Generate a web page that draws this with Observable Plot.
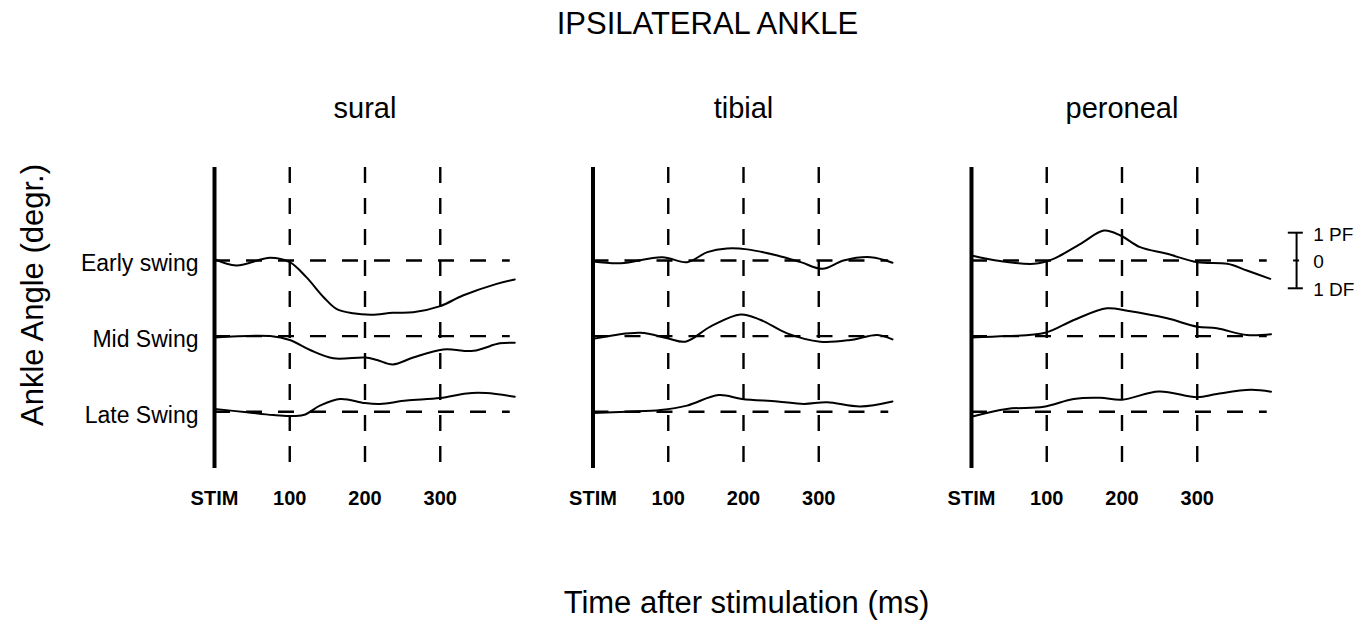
<!DOCTYPE html>
<html>
<head>
<meta charset="utf-8">
<script src="https://cdn.jsdelivr.net/npm/d3@7"></script>
<script src="https://cdn.jsdelivr.net/npm/@observablehq/plot@0.6"></script>
<style>
  html, body { margin: 0; padding: 0; background: #ffffff; }
  #chart svg { display: block; }
</style>
</head>
<body>
<div id="chart"></div>
<script>
// ---------- data ----------
const PANELS = ["sural", "tibial", "peroneal"];
const PHASES = ["Early swing", "Mid Swing", "Late Swing"];
const PHASE_SHIFT = 2.72;                 // degrees between stacked baselines
const X_TICKS = [0, 100, 200, 300];
const X_TICK_LABELS = ["STIM", "100", "200", "300"];
const MARKER_TIMES = [100, 200, 300];
const SCALE_VALUES = [1, 0, -1];
const SCALE_LABELS = ["1 PF", "0", "1 DF"];

// ankle angle (degrees, + = plantar flexion) vs time after stimulation (ms)
const sural_early_t = [0, 29, 74, 100, 122, 145, 162, 184, 209, 237, 264, 300, 330, 375, 399];
const sural_early_v = [0.05, -0.18, 0.1, -0.06, -0.6, -1.32, -1.74, -1.9, -1.95, -1.88, -1.86, -1.64, -1.26, -0.84, -0.68];
const sural_mid_t = [0, 74, 100, 127, 158, 200, 216, 237, 264, 304, 344, 379, 399];
const sural_mid_v = [-0.05, 0, -0.14, -0.5, -0.8, -0.77, -0.86, -1.02, -0.77, -0.48, -0.53, -0.26, -0.24];
const sural_late_t = [0, 43, 78, 118, 140, 167, 200, 220, 255, 300, 335, 361, 399];
const sural_late_v = [0.1, -0.02, -0.12, -0.12, 0.22, 0.46, 0.31, 0.28, 0.4, 0.49, 0.66, 0.67, 0.54];

const tibial_early_t = [0, 37, 92, 125, 152, 178, 205, 245, 276, 305, 333, 369, 398];
const tibial_early_v = [-0.04, -0.1, 0.12, -0.06, 0.3, 0.43, 0.4, 0.18, -0.06, -0.3, 0, 0.12, -0.08];
const tibial_mid_t = [0, 63, 99, 123, 156, 196, 223, 258, 302, 342, 378, 398];
const tibial_mid_v = [-0.1, 0.12, -0.08, -0.2, 0.34, 0.78, 0.58, 0.1, -0.2, -0.14, 0.04, -0.12];
const tibial_late_t = [0, 45, 90, 125, 167, 198, 245, 280, 311, 355, 398];
const tibial_late_v = [-0.05, 0, 0.06, 0.22, 0.6, 0.46, 0.37, 0.28, 0.34, 0.19, 0.37];

const peroneal_early_t = [0, 38, 83, 109, 145, 176, 198, 224, 260, 300, 340, 366, 397];
const peroneal_early_v = [0.18, -0.02, -0.12, 0.06, 0.6, 1.08, 0.9, 0.48, 0.24, -0.06, -0.12, -0.36, -0.66];
const peroneal_mid_t = [0, 47, 98, 136, 180, 207, 260, 300, 326, 366, 398];
const peroneal_mid_v = [-0.05, 0, 0.12, 0.58, 1.0, 0.91, 0.64, 0.34, 0.28, 0.04, 0.07];
const peroneal_late_t = [0, 47, 96, 136, 171, 200, 249, 300, 326, 371, 398];
const peroneal_late_v = [-0.18, 0.1, 0.18, 0.46, 0.5, 0.43, 0.73, 0.52, 0.64, 0.79, 0.72];

// ---------- build table ----------
const traces = [
  ["sural", 0, sural_early_t, sural_early_v],
  ["sural", 1, sural_mid_t, sural_mid_v],
  ["sural", 2, sural_late_t, sural_late_v],
  ["tibial", 0, tibial_early_t, tibial_early_v],
  ["tibial", 1, tibial_mid_t, tibial_mid_v],
  ["tibial", 2, tibial_late_t, tibial_late_v],
  ["peroneal", 0, peroneal_early_t, peroneal_early_v],
  ["peroneal", 1, peroneal_mid_t, peroneal_mid_v],
  ["peroneal", 2, peroneal_late_t, peroneal_late_v]
];
const rows = traces.flatMap(([panel, phase, ts, vs]) =>
  ts.map((t, i) => ({panel, key: panel + "-" + phase, t, v: vs[i] - phase * PHASE_SHIFT}))
);
const baselines = PHASES.map((p, i) => -i * PHASE_SHIFT);

const FONT = "'Liberation Sans', Arial, Helvetica, sans-serif";

const chart = Plot.plot({
  width: 1370,
  height: 621,
  marginLeft: 214,
  marginRight: 98,
  marginTop: 167,
  marginBottom: 153,
  style: {fontFamily: FONT, color: "#000", background: "#fff", overflow: "visible"},
  fx: {domain: PANELS, paddingInner: 0.2047, paddingOuter: 0, round: false, axis: null, label: null},
  x: {domain: [0, 400], axis: null, label: null},
  y: {domain: [-7.482, 3.345], axis: null, label: null},
  marks: [
    Plot.ruleX(MARKER_TIMES, {stroke: "#000", strokeWidth: 2.4, strokeDasharray: "16,15"}),
    Plot.ruleY(baselines, {x1: 0, x2: 393, stroke: "#000", strokeWidth: 2.4, strokeDasharray: "16,16"}),
    Plot.ruleX([0], {stroke: "#000", strokeWidth: 4}),
    Plot.line(rows, {x: "t", y: "v", z: "key", fx: "panel", curve: "catmull-rom", stroke: "#000", strokeWidth: 2}),
    Plot.axisX({
      ticks: X_TICKS,
      tickFormat: d => X_TICK_LABELS[X_TICKS.indexOf(d)],
      tickSize: 0, tickPadding: 22, fontSize: 20, fontWeight: "bold", label: null
    }),
    Plot.text(PANELS, {fx: d => d, text: d => d, frameAnchor: "top", lineAnchor: "bottom", dy: -50, fontSize: 29}),
    Plot.text(PHASES, {
      fx: () => "sural", x: () => 0, y: (d, i) => baselines[i], text: d => d,
      textAnchor: "end", lineAnchor: "bottom", dx: -16, dy: 11, fontSize: 23
    }),
    // scale bar (degrees)
    Plot.ruleX([1], {fx: () => "peroneal", x: () => 432, y1: -1, y2: 1, stroke: "#000", strokeWidth: 2}),
    Plot.ruleY(SCALE_VALUES, {
      fx: () => "peroneal", y: d => d,
      x1: d => d === 0 ? 428 : 421, x2: d => d === 0 ? 436 : 441,
      stroke: "#000", strokeWidth: 2
    }),
    Plot.text(SCALE_VALUES, {
      fx: () => "peroneal", x: () => 454, y: d => d, text: (d, i) => SCALE_LABELS[i],
      textAnchor: "start", lineAnchor: "bottom", dy: 8, fontSize: 19
    })
  ]
});

document.getElementById("chart").appendChild(chart);

// figure-level texts
const svg = d3.select(chart);
svg.append("text")
  .attr("x", 707.5).attr("y", 34)
  .attr("text-anchor", "middle")
  .style("font-family", FONT).style("font-size", "31px").attr("fill", "#000")
  .text("IPSILATERAL ANKLE");
svg.append("text")
  .attr("x", 746.5).attr("y", 613)
  .attr("text-anchor", "middle")
  .style("font-family", FONT).style("font-size", "31px").attr("fill", "#000")
  .text("Time after stimulation (ms)");
svg.append("text")
  .attr("transform", "translate(43,295) rotate(-90)")
  .attr("text-anchor", "middle")
  .style("font-family", FONT).style("font-size", "31px").attr("fill", "#000")
  .text("Ankle Angle (degr.)");
</script>
</body>
</html>
